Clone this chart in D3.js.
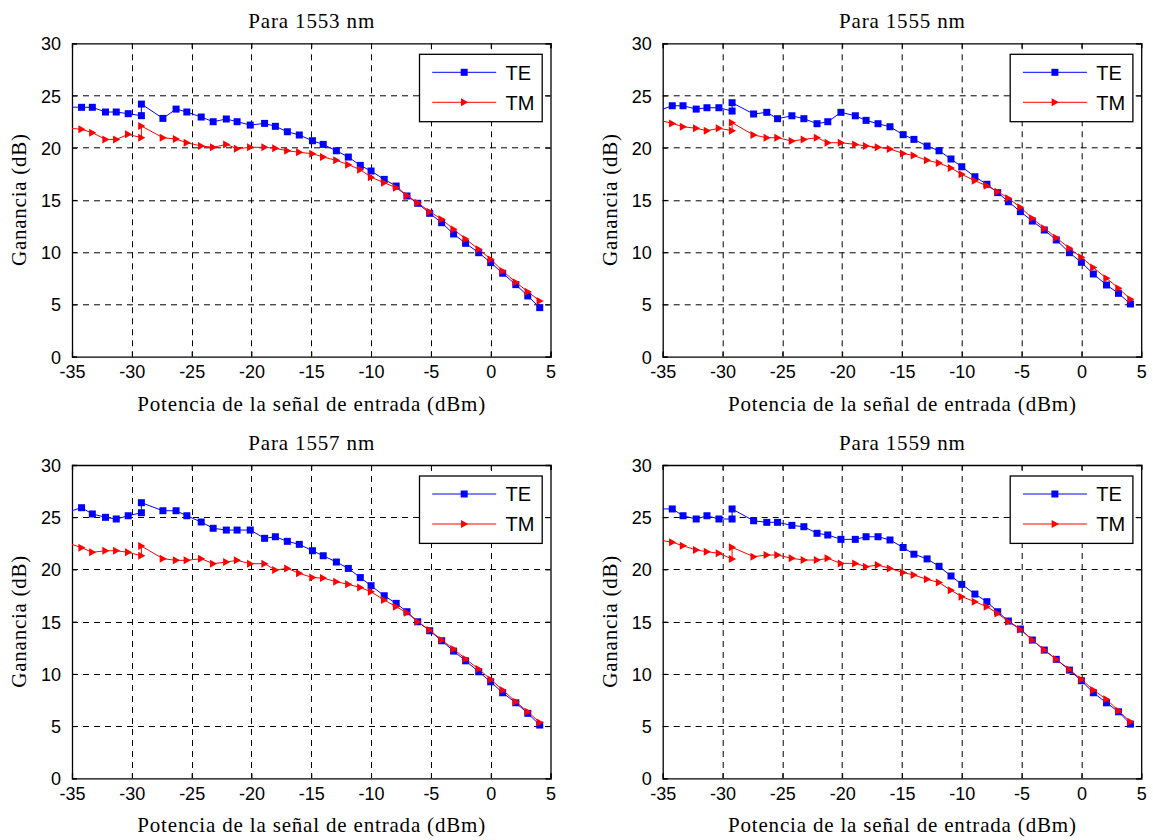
<!DOCTYPE html>
<html lang="es">
<head>
  <meta charset="UTF-8">
  <title>Ganancia TE / TM</title>
  <script src="https://d3js.org/d3.v7.min.js"></script>
  <style>
    body { margin: 0; background: #fff; }
    svg { display: block; }
    .tick-label { font-family: Arial, "Liberation Sans", sans-serif; font-size: 18px; fill: #000; }
    .serif { font-family: "Times New Roman", "Liberation Serif", serif; font-size: 21px; fill: #000; }
    .legend-text { font-family: Arial, "Liberation Sans", sans-serif; font-size: 20px; fill: #000; }
  </style>
</head>
<body>
  <div id="chart"></div>
  <script>
    // potencia de entrada (dBm); el primer punto cae fuera del eje y queda recortado
    const potencia = [-35.5, -34.2, -33.3, -32.2, -31.3, -30.3, -29.2, -29.2, -27.4, -26.3, -25.4, -24.2, -23.2, -22.1, -21.2, -20.1,
      -18.9, -18, -17, -16, -14.9, -14, -12.9, -11.9, -10.9, -10, -8.9, -7.9, -7, -6.1, -5.1, -4.1, -3.1, -2.1, -1, 0, 1, 2.1, 3.1, 4.1];

    const te1553 = [23.9, 23.87, 23.87, 23.42, 23.42, 23.26, 23.07, 24.18, 22.81, 23.7, 23.42, 22.94, 22.49, 22.75, 22.49, 22.17,
      22.33, 22.05, 21.53, 21.22, 20.67, 20.32, 19.71, 19.11, 18.31, 17.77, 16.97, 16.33, 15.38, 14.68, 13.72, 12.82, 11.74, 10.85, 9.95, 9.0, 7.98, 6.89, 5.81, 4.69];
    const tm1553 = [21.9, 21.76, 21.44, 20.8, 20.8, 21.28, 20.96, 22.08, 20.96, 20.83, 20.48, 20.16, 20.04, 20.32, 19.9, 20.04,
      20.04, 19.94, 19.71, 19.56, 19.43, 19.11, 18.79, 18.38, 17.9, 17.17, 16.65, 16.17, 15.41, 14.74, 13.88, 13.15, 12.19, 11.26, 10.28, 9.32, 8.2, 7.12, 6.22, 5.33];

    const te1555 = [23.5, 24.02, 24.02, 23.7, 23.83, 23.83, 23.51, 24.31, 23.23, 23.39, 22.78, 23.06, 22.78, 22.3, 22.49, 23.39,
      23.06, 22.62, 22.3, 22.01, 21.25, 20.8, 20.16, 19.71, 18.92, 18.18, 17.22, 16.5, 15.7, 14.83, 13.88, 12.98, 12.12, 11.17, 9.95, 9.03, 7.91, 6.86, 6.06, 5.04];
    const tm1555 = [22.7, 22.33, 22.01, 21.86, 21.63, 21.86, 21.63, 22.39, 21.22, 20.96, 20.96, 20.64, 20.8, 20.96, 20.48, 20.48,
      20.32, 20.16, 20.04, 19.88, 19.45, 19.25, 18.79, 18.53, 18.06, 17.45, 16.84, 16.36, 15.79, 15.16, 14.3, 13.24, 12.29, 11.39, 10.37, 9.51, 8.52, 7.5, 6.55, 5.49];

    const te1557 = [25.45, 25.91, 25.31, 24.99, 24.83, 25.14, 25.43, 26.39, 25.62, 25.62, 25.14, 24.54, 23.94, 23.77, 23.77, 23.77,
      22.98, 23.13, 22.69, 22.4, 21.79, 21.31, 20.71, 20.1, 19.22, 18.44, 17.48, 16.75, 15.95, 14.99, 14.13, 13.17, 12.18, 11.25, 10.2, 9.24, 8.19, 7.23, 6.22, 5.1];
    const tm1557 = [22.6, 22.08, 21.64, 21.79, 21.79, 21.64, 21.31, 22.24, 21.03, 20.87, 20.87, 21.03, 20.55, 20.71, 20.87, 20.55,
      20.55, 19.94, 20.1, 19.63, 19.22, 19.17, 18.82, 18.57, 18.27, 17.86, 17.07, 16.43, 15.85, 14.99, 14.2, 13.24, 12.38, 11.42, 10.46, 9.47, 8.45, 7.33, 6.37, 5.35];

    const te1559 = [25.8, 25.79, 25.14, 24.83, 25.14, 24.83, 24.83, 25.79, 24.66, 24.51, 24.51, 24.22, 24.09, 23.46, 23.3, 22.88,
      22.88, 23.13, 23.13, 22.82, 22.1, 21.46, 21.01, 20.3, 19.37, 18.57, 17.64, 16.91, 15.95, 15.06, 14.29, 13.24, 12.28, 11.39, 10.36, 9.34, 8.19, 7.23, 6.37, 5.19];
    const tm1559 = [22.85, 22.6, 22.27, 21.86, 21.7, 21.54, 21.0, 22.12, 21.22, 21.38, 21.38, 21.06, 20.9, 20.9, 21.06, 20.58,
      20.58, 20.26, 20.42, 20.1, 19.7, 19.46, 19.05, 18.75, 18.0, 17.39, 16.91, 16.43, 15.79, 14.99, 14.26, 13.24, 12.28, 11.39, 10.43, 9.47, 8.45, 7.56, 6.47, 5.41];

    const titulos = ['Para 1553 nm', 'Para 1555 nm', 'Para 1557 nm', 'Para 1559 nm'];
    const xTicks = [-35, -30, -25, -20, -15, -10, -5, 0, 5];
    const yTicks = [0, 5, 10, 15, 20, 25, 30];
    const xLabel = 'Potencia de la señal de entrada (dBm)';
    const yLabel = 'Ganancia (dB)';

    const panels = [
      { title: titulos[0], te: te1553, tm: tm1553, left: 72, top: 43.3 },
      { title: titulos[1], te: te1555, tm: tm1555, left: 662.7, top: 43.3 },
      { title: titulos[2], te: te1557, tm: tm1557, left: 72, top: 465 },
      { title: titulos[3], te: te1559, tm: tm1559, left: 662.7, top: 465 }
    ];

    const W = 1153, H = 840;
    const pw = 478.5, ph = 313.3;

    const svg = d3.select('#chart').append('svg')
      .attr('width', W).attr('height', H);
    svg.append('rect').attr('width', W).attr('height', H).attr('fill', '#fff');

    const tri = 'M-3.2,-4 L4,0 L-3.2,4 Z';
    const fmt = d => String(d);  // guion normal como en MATLAB

    panels.forEach((p, i) => {
      const g = svg.append('g').attr('transform', `translate(${p.left},${p.top})`);
      const x = d3.scaleLinear().domain([-35, 5]).range([0, pw]);
      const y = d3.scaleLinear().domain([0, 30]).range([ph, 0]);

      // grid
      g.append('g').selectAll('line').data(xTicks.slice(1, -1)).join('line')
        .attr('x1', d => Math.round(x(d)) + 0.5).attr('x2', d => Math.round(x(d)) + 0.5)
        .attr('y1', 0).attr('y2', ph)
        .attr('stroke', '#000').attr('stroke-width', 1).attr('stroke-dasharray', '6,5');
      g.append('g').selectAll('line').data(yTicks.slice(1, -1)).join('line')
        .attr('y1', d => Math.round(y(d)) + 0.5).attr('y2', d => Math.round(y(d)) + 0.5)
        .attr('x1', 0).attr('x2', pw)
        .attr('stroke', '#000').attr('stroke-width', 1).attr('stroke-dasharray', '6,5');

      // ejes (MATLAB: ticks hacia dentro, caja cerrada)
      const axB = d3.axisBottom(x).tickValues(xTicks).tickSize(-5).tickPadding(9).tickFormat(fmt);
      const axT = d3.axisTop(x).tickValues(xTicks).tickSize(-5).tickFormat('');
      const axL = d3.axisLeft(y).tickValues(yTicks).tickSize(-5).tickPadding(11).tickFormat(fmt);
      const axR = d3.axisRight(y).tickValues(yTicks).tickSize(-5).tickFormat('');

      const gb = g.append('g').attr('transform', `translate(0,${ph})`).call(axB);
      g.append('g').call(axT);
      const gl = g.append('g').call(axL);
      g.append('g').attr('transform', `translate(${pw},0)`).call(axR);
      g.selectAll('.domain').attr('stroke', '#000').attr('stroke-width', 1.3);
      g.selectAll('.tick line').attr('stroke', '#000');
      gb.selectAll('.tick text').attr('class', 'tick-label').attr('dy', '0.71em');
      gl.selectAll('.tick text').attr('class', 'tick-label').attr('dy', '0.36em');

      // datos
      const clipId = 'clip' + i;
      g.append('clipPath').attr('id', clipId)
        .append('rect').attr('width', pw).attr('height', ph);
      const dg = g.append('g').attr('clip-path', `url(#${clipId})`);

      const line = d3.line().x(d => x(d[0])).y(d => y(d[1]));
      const teData = potencia.map((v, k) => [v, p.te[k]]);
      const tmData = potencia.map((v, k) => [v, p.tm[k]]);

      dg.append('path').datum(teData).attr('d', line)
        .attr('fill', 'none').attr('stroke', '#0000ff').attr('stroke-width', 1);
      dg.selectAll('.sq').data(teData).join('rect').attr('class', 'sq')
        .attr('x', d => x(d[0]) - 3.5).attr('y', d => y(d[1]) - 3.5)
        .attr('width', 7).attr('height', 7).attr('fill', '#0000ff');

      dg.append('path').datum(tmData).attr('d', line)
        .attr('fill', 'none').attr('stroke', '#ff0000').attr('stroke-width', 1);
      dg.selectAll('.tr').data(tmData).join('path').attr('class', 'tr')
        .attr('d', tri)
        .attr('transform', d => `translate(${x(d[0])},${y(d[1])})`)
        .attr('fill', '#ff0000');

      // textos
      g.append('text').attr('class', 'serif')
        .attr('x', pw / 2).attr('y', -15).attr('text-anchor', 'middle')
        .attr('textLength', 126).attr('lengthAdjust', 'spacing')
        .text(p.title);
      g.append('text').attr('class', 'serif')
        .attr('x', pw / 2).attr('y', ph + 54).attr('text-anchor', 'middle')
        .attr('textLength', 348).attr('lengthAdjust', 'spacing')
        .text(xLabel);
      g.append('text').attr('class', 'serif')
        .attr('transform', `translate(${-46},${ph / 2}) rotate(-90)`)
        .attr('text-anchor', 'middle')
        .attr('textLength', 132).attr('lengthAdjust', 'spacing')
        .text(yLabel);

      // leyenda
      const lw = 122.7, lh = 67.4;
      const lg = g.append('g').attr('transform', `translate(${pw - 8.3 - lw},${11})`);
      lg.append('rect').attr('width', lw).attr('height', lh)
        .attr('fill', '#fff').attr('stroke', '#000').attr('stroke-width', 1.3);
      const items = [
        { name: 'TE', color: '#0000ff', yy: 18 },
        { name: 'TM', color: '#ff0000', yy: 48 }
      ];
      items.forEach(it => {
        lg.append('line').attr('x1', 12.7).attr('x2', 76.7).attr('y1', it.yy).attr('y2', it.yy)
          .attr('stroke', it.color).attr('stroke-width', 1);
        if (it.name === 'TE') {
          lg.append('rect').attr('x', 44.7 - 3.5).attr('y', it.yy - 3.5).attr('width', 7).attr('height', 7).attr('fill', it.color);
        } else {
          lg.append('path').attr('d', tri).attr('transform', `translate(44.7,${it.yy})`).attr('fill', it.color);
        }
        lg.append('text').attr('class', 'legend-text')
          .attr('x', 86).attr('y', it.yy + 7.3).text(it.name);
      });
    });
  </script>
</body>
</html>
